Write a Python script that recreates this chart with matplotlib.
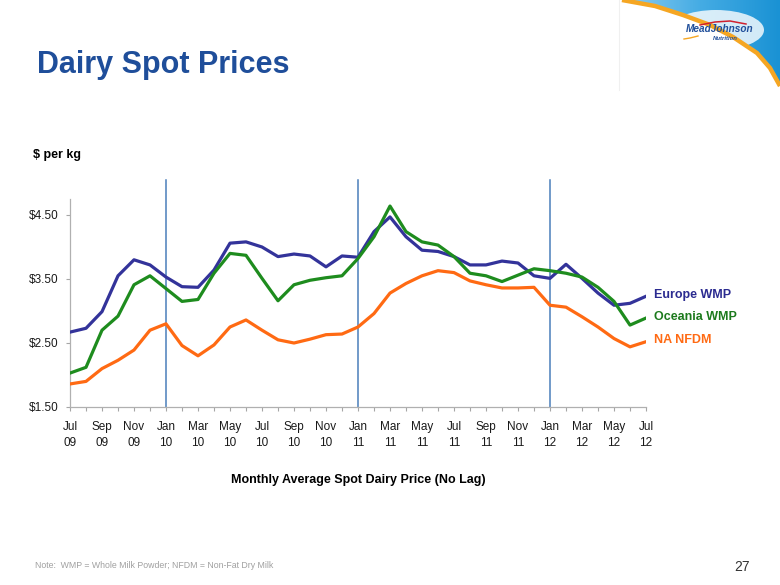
import matplotlib
matplotlib.use('Agg')
import matplotlib.pyplot as plt
import numpy as np
from matplotlib.patches import Polygon, Ellipse

plt.rcParams['font.family'] = ['Liberation Sans', 'DejaVu Sans']

# monthly averages, Jul 09 .. Jul 12 ($ per kg)
month_idx = np.arange(37)
tick_labels = ['Jul\n09', 'Sep\n09', 'Nov\n09', 'Jan\n10', 'Mar\n10', 'May\n10', 'Jul\n10',
               'Sep\n10', 'Nov\n10', 'Jan\n11', 'Mar\n11', 'May\n11', 'Jul\n11', 'Sep\n11',
               'Nov\n11', 'Jan\n12', 'Mar\n12', 'May\n12', 'Jul\n12']
europe_wmp = [2.67, 2.73, 2.99, 3.55, 3.80, 3.72, 3.53, 3.38, 3.37, 3.64, 4.06, 4.08, 4.00,
              3.85, 3.89, 3.86, 3.69, 3.86, 3.84, 4.24, 4.47, 4.16, 3.95, 3.93, 3.85, 3.72,
              3.72, 3.78, 3.75, 3.55, 3.51, 3.73, 3.51, 3.28, 3.09, 3.12, 3.23]
oceania_wmp = [2.03, 2.12, 2.70, 2.92, 3.41, 3.55, 3.35, 3.15, 3.18, 3.59, 3.90, 3.87, 3.51,
               3.16, 3.41, 3.48, 3.52, 3.55, 3.82, 4.16, 4.64, 4.24, 4.08, 4.03, 3.85, 3.59,
               3.55, 3.46, 3.56, 3.66, 3.63, 3.59, 3.53, 3.37, 3.15, 2.78, 2.89]
na_nfdm = [1.86, 1.90, 2.10, 2.23, 2.39, 2.70, 2.80, 2.46, 2.30, 2.47, 2.75, 2.86, 2.70,
           2.55, 2.50, 2.56, 2.63, 2.64, 2.75, 2.96, 3.28, 3.43, 3.55, 3.63, 3.60, 3.47,
           3.41, 3.36, 3.36, 3.37, 3.09, 3.06, 2.91, 2.75, 2.57, 2.44, 2.52]
series = [('Europe WMP', europe_wmp, '#33339a', '#2b2b90'),
          ('Oceania WMP', oceania_wmp, '#1e8c1e', '#1d7a1d'),
          ('NA NFDM', na_nfdm, '#ff6a13', '#ff6a13')]
year_starts = [6, 18, 30]
y_ticks = [1.5, 2.5, 3.5, 4.5]

fig = plt.figure(figsize=(7.8, 5.85), dpi=100)

# slide decoration (logo corner) in pixel coordinates
bg = fig.add_axes([0, 0, 1, 1], zorder=-1)
bg.set_xlim(0, 780)
bg.set_ylim(585, 0)
bg.axis('off')
arc = [(622, 0), (655, 6), (683, 15), (710, 25), (733, 37), (757, 53), (770, 68), (780, 86)]
sky = Polygon(arc + [(780, 0)], closed=True, facecolor='none', edgecolor='none')
bg.add_patch(sky)
grad = np.linspace(0, 1, 200)[None, :]
img = bg.imshow(grad, extent=[620, 780, 90, 0], cmap=plt.matplotlib.colors.LinearSegmentedColormap.from_list(
    'sky', ['#8fcdf0', '#45ace4', '#1a92d4']), aspect='auto')
img.set_clip_path(sky)
glow = Ellipse((716, 30), 96, 40, facecolor='white', alpha=0.8, edgecolor='none')
bg.add_patch(glow)
glow.set_clip_path(sky)
ax_x, ax_y = zip(*arc)
bg.plot(ax_x, ax_y, color='#f5a623', lw=3.2, solid_capstyle='butt')
bg.plot([619, 619], [0, 90], color='#f0f0f0', lw=0.8)
bg.plot([700, 715, 730, 746], [25, 22, 21, 24], color='#d0202e', lw=1.1)
bg.plot([684, 690, 698], [39, 38, 36], color='#f5a623', lw=1.0)
bg.text(686, 32, 'MeadJohnson', fontsize=7.2, fontweight='bold', style='italic',
        color='#1f4e9a', va='baseline')
bg.text(713, 40, 'Nutrition', fontsize=4.3, fontweight='bold', style='italic',
        color='#1f4e9a', va='baseline')

fig.text(37 / 780, 1 - 72.7 / 585, 'Dairy Spot Prices', fontsize=22, fontweight='bold',
         color='#1f4e9a', va='baseline')
fig.text(33 / 780, 1 - 155 / 585, '$ per kg', fontsize=9, fontweight='bold', va='center')
fig.text(358 / 780, 1 - 480 / 585, 'Monthly Average Spot Dairy Price (No Lag)', fontsize=9,
         fontweight='bold', ha='center', va='center')
fig.text(35 / 780, 1 - 566 / 585, 'Note:  WMP = Whole Milk Powder; NFDM = Non-Fat Dry Milk',
         fontsize=6.3, color='#a0a0a0', va='center')
fig.text(734 / 780, 1 - 567 / 585, '27', fontsize=10, color='#333333', va='center')

ax = fig.add_axes([70 / 780, 1 - 407 / 585, 576 / 780, 208 / 585])
ax.set_xlim(0, 36)
ax.set_ylim(1.5, 4.75)

for name, vals, col, lab_col in series:
    ax.plot(month_idx, vals, color=col, lw=2.3, solid_joinstyle='round', zorder=3)
    ax.text(36.5, vals[-1] + 0.02, name, color=lab_col, fontsize=9, fontweight='bold',
            va='center', ha='left', clip_on=False)

ymax = (5.05 - 1.5) / (4.75 - 1.5)
for m in year_starts:
    ax.axvline(m, ymin=0, ymax=ymax, color='#4a7ebb', lw=1.1, clip_on=False, zorder=2)

ax.set_yticks(y_ticks)
ax.set_yticklabels(['$%.2f' % v for v in y_ticks])
ax.set_xticks(month_idx[::2])
ax.set_xticklabels(tick_labels, linespacing=1.45)
ax.set_xticks(month_idx, minor=True)
ax.tick_params(axis='both', which='both', labelsize=8.5, colors='#a6a6a6', labelcolor='#1a1a1a',
               length=3, width=0.8, direction='out')
ax.tick_params(axis='x', pad=7)
ax.tick_params(axis='y', pad=5)
for s in ['top', 'right']:
    ax.spines[s].set_visible(False)
for s in ['left', 'bottom']:
    ax.spines[s].set_color('#b0b0b0')
    ax.spines[s].set_linewidth(0.9)
ax.set_facecolor('none')

fig.savefig('out.png', dpi=100)
